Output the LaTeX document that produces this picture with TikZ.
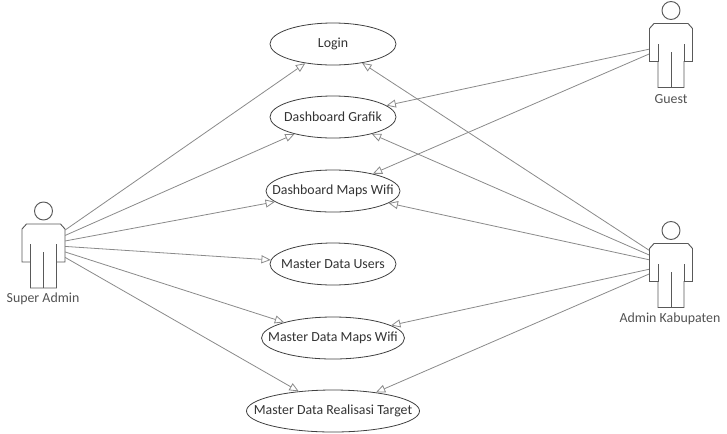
\documentclass[tikz,border=0pt]{standalone}
\usepackage{fontspec}
\setmainfont{Carlito}
\usetikzlibrary{shapes.geometric,arrows.meta}
\definecolor{ink}{HTML}{333333}
\definecolor{wire}{HTML}{8A8A8A}
\tikzset{
  x=0.75pt,y=-0.75pt,
  usecase/.style n args={2}{ellipse,draw=black!75,line width=0.6pt,inner sep=0pt,minimum width=#1*0.75pt,minimum height=42*0.75pt,
    label={[text=ink,font=\fontsize{10.4}{12}\selectfont,inner sep=0pt]center:#2}},
  actorbox/.style={rectangle,draw=none,inner sep=0pt,outer sep=0pt,minimum width=43.5*0.75pt,minimum height=86*0.75pt},
  actorlabel/.style={text=ink!85,font=\fontsize{10.4}{12}\selectfont,inner sep=0pt},
  assoc/.style={draw=wire,line width=0.6pt,-{Triangle[open,length=7pt,width=6pt,fill=white]}},
  actorline/.style={draw=black!65,line width=0.7pt},
  pics/actor/.style={code={
    \draw[actorline] (0,-34) circle[radius=9];
    \draw[actorline,fill=white] (-21.5,17) -- (-21.5,-16) -- (-17,-21) -- (17,-21) -- (21.5,-16) -- (21.5,17) -- (13,17) -- (13,43) -- (-13,43) -- (-13,17) -- cycle;
    \draw[actorline] (-13,17) -- (-13,-1);
    \draw[actorline] (13,17) -- (13,-1);
    \draw[actorline] (0,43) -- (0,7);
  }}
}
\begin{document}
\begin{tikzpicture}
\useasboundingbox (0,0) rectangle (727,433);
\node[usecase={126}{Login}] (login) at (333,44) {};
\node[usecase={126}{Dashboard Grafik}] (grafik) at (333,117) {};
\node[usecase={134}{Dashboard Maps Wifi}] (maps) at (333,191) {};
\node[usecase={126}{Master Data Users}] (users) at (333,264) {};
\node[usecase={143}{Master Data Maps Wifi}] (mdmaps) at (333,338) {};
\node[usecase={173}{Master Data Realisasi Target}] (target) at (333,411) {};
\node[actorbox] (sa) at (43.5,245) {};
\node[actorbox] (guest) at (671,44.5) {};
\node[actorbox] (admin) at (671,264.5) {};
\foreach \u in {login,grafik,maps,users,mdmaps,target} \draw[assoc] (sa) -- (\u);
\foreach \u in {grafik,maps} \draw[assoc] (guest) -- (\u);
\foreach \u in {login,grafik,maps,mdmaps,target} \draw[assoc] (admin) -- (\u);
\pic at (sa) {actor};
\pic at (guest) {actor};
\pic at (admin) {actor};
\node[actorlabel] (salabel) at (43,299) {Super Admin};
\node[actorlabel] (guestlabel) at (671,99) {Guest};
\node[actorlabel] (adminlabel) at (670,319) {Admin Kabupaten};
\end{tikzpicture}
\end{document}
